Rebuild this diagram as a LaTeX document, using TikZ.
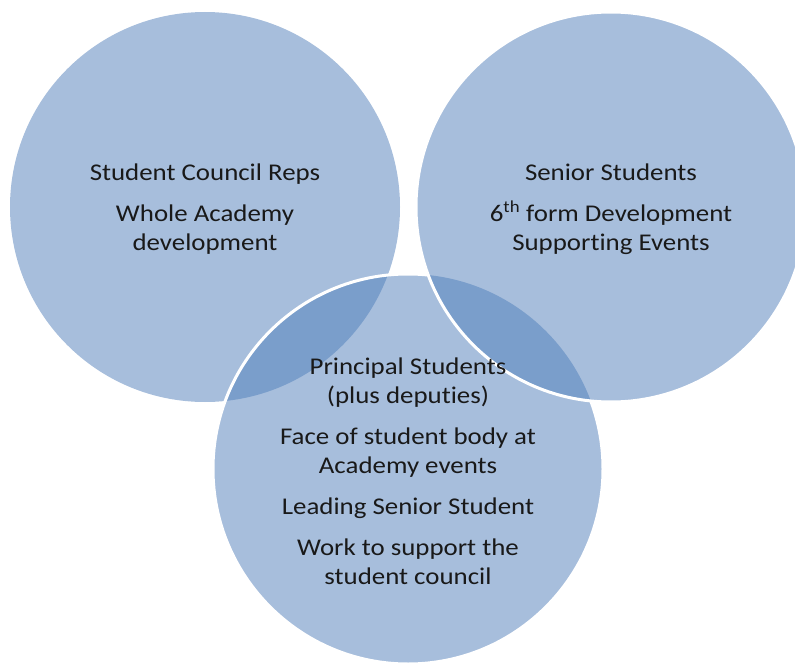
\documentclass[tikz,border=0pt]{standalone}
\usepackage{fontspec}
\setmainfont{Carlito}[Ligatures=NoCommon, FakeStretch=1.12]
\definecolor{vennblue}{RGB}{167,190,220}
\definecolor{venndark}{RGB}{122,158,203}

\begin{document}
\begin{tikzpicture}[x=1pt, y=-1pt, circ/.style = {fill=vennblue}, rim/.style = {draw=white, line width=3pt}, venntext/.style = {align=center, font=\fontsize{24}{29}\selectfont, text=black!90}]
\useasboundingbox (0,0) rectangle (795,666);
\def\rad{195}
\coordinate (council) at (205,207);
\coordinate (senior) at (611,207);
\coordinate (principal) at (408,469);
% circles
\fill[circ] (council) circle (\rad);
\fill[circ] (principal) circle (\rad);
\fill[circ] (senior) circle (\rad);
% overlaps
\begin{scope}
\clip (principal) circle (\rad);
\fill[venndark] (council) circle (\rad);
\fill[venndark] (senior) circle (\rad);
\end{scope}
% white rims
\begin{scope}[even odd rule]
\clip (senior) circle (\rad) (-10,-10) rectangle (805,676);
\draw[rim] (principal) circle (\rad);
\end{scope}
\draw[rim] (senior) circle (\rad);
% texts
\node[venntext] (reps) at (205,209) {Student Council Reps\\[12pt] Whole Academy\\ development};
\node[venntext] (seniors) at (611,209) {Senior Students\\[12pt] 6\textsuperscript{th} form Development\\ Supporting Events};
\node[venntext] (principals) at (408,471) {Principal Students\\ (plus deputies)\\[12pt] Face of student body at\\ Academy events\\[12pt] Leading Senior Student\\[12pt] Work to support the\\ student council};
\end{tikzpicture}
\end{document}
